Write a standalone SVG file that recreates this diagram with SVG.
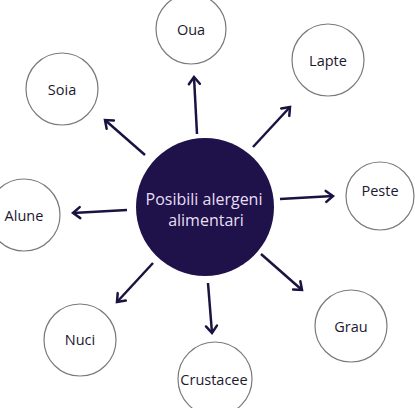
<svg xmlns="http://www.w3.org/2000/svg" width="415" height="408" viewBox="0 0 415 408">
<style>
.node circle{fill:#fff;stroke:#7a7a7a;stroke-width:1.2}
.node text{font-family:"Open Sans","Liberation Sans",sans-serif;font-size:14.5px;fill:#1c1830;text-anchor:middle}
.conn line{stroke:#1a1240;stroke-width:2.5;fill:none}
#center circle{fill:#1f1149}
#center text{font-family:"Open Sans","Liberation Sans",sans-serif;font-size:16px;fill:#e6dff4;text-anchor:middle}
</style>
<defs>
<marker id="arr" markerUnits="userSpaceOnUse" markerWidth="20" markerHeight="20" refX="0" refY="0" viewBox="-10 -10 20 20" orient="auto">
<path d="M-7,-5.5 L0,0 L-7,5.5" fill="none" stroke="#1a1240" stroke-width="2.5" stroke-linecap="round" stroke-linejoin="miter"/>
</marker>
</defs>
<g id="connectors" class="conn">
<line x1="197" y1="134" x2="194" y2="77" marker-end="url(#arr)"/>
<line x1="253" y1="147" x2="290" y2="107" marker-end="url(#arr)"/>
<line x1="145" y1="155" x2="105" y2="120" marker-end="url(#arr)"/>
<line x1="127" y1="210" x2="73" y2="213" marker-end="url(#arr)"/>
<line x1="280" y1="199" x2="333" y2="196" marker-end="url(#arr)"/>
<line x1="153" y1="263" x2="117" y2="302" marker-end="url(#arr)"/>
<line x1="261" y1="254" x2="302" y2="290" marker-end="url(#arr)"/>
<line x1="208" y1="283" x2="212" y2="333" marker-end="url(#arr)"/>
</g>
<g id="center">
<circle cx="205" cy="207" r="69"/>
<text x="204" y="205">Posibili alergeni</text>
<text x="206" y="226">alimentari</text>
</g>
<g id="oua" class="node"><circle cx="191" cy="29" r="35"/><text x="191" y="35">Oua</text></g>
<g id="lapte" class="node"><circle cx="328" cy="60" r="36"/><text x="328" y="66">Lapte</text></g>
<g id="soia" class="node"><circle cx="62" cy="89" r="36"/><text x="62" y="95">Soia</text></g>
<g id="alune" class="node"><circle cx="24" cy="215" r="36"/><text x="24" y="221">Alune</text></g>
<g id="peste" class="node"><circle cx="380" cy="196" r="34"/><text x="380" y="196">Peste</text></g>
<g id="nuci" class="node"><circle cx="80" cy="340" r="36"/><text x="80" y="345">Nuci</text></g>
<g id="grau" class="node"><circle cx="351" cy="326" r="36"/><text x="351" y="332">Grau</text></g>
<g id="crustacee" class="node"><circle cx="215" cy="379" r="37"/><text x="214" y="385">Crustacee</text></g>
</svg>
